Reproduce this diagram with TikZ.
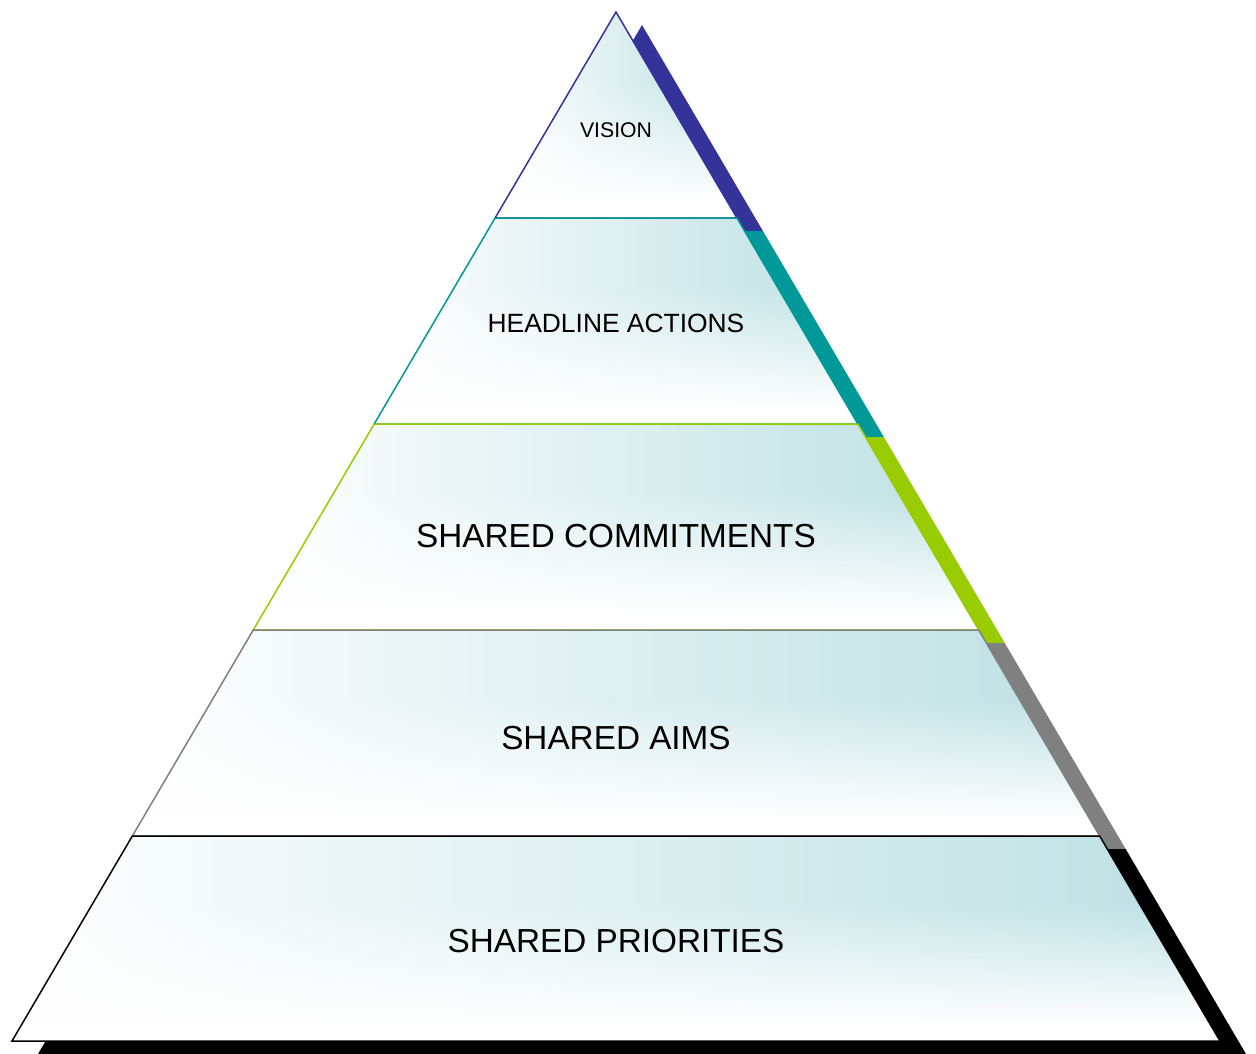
\documentclass[tikz,border=0pt]{standalone}
\usepackage{fontspec}
\setmainfont{Liberation Sans}
\usetikzlibrary{fadings}
\definecolor{tealbg}{RGB}{189,224,227}
\definecolor{cnavy}{RGB}{51,51,153}
\definecolor{cteal}{RGB}{0,153,153}
\definecolor{cgreen}{RGB}{153,204,0}
\definecolor{cgray}{RGB}{128,128,128}
\pgfdeclareverticalshading{lvlshade}{100bp}{color(0bp)=(white); color(29bp)=(white); color(58bp)=(tealbg); color(100bp)=(tealbg)}
\tikzfading[name=lfade, left color=transparent!0, middle color=transparent!55, right color=transparent!100]
\tikzset{
  lvlfill/.style={shading=lvlshade},
  lvlfade/.style={fill=white, path fading=lfade},
  lvledge/.style={draw=#1, line width=1.5pt, line join=miter},
  shadowfill/.style={fill=#1, shift={(26,13)}},
  lbl/.style={text=black, inner sep=0pt, anchor=center},
}
\begin{document}
\begin{tikzpicture}[x=1pt,y=-1pt]
\useasboundingbox (0,0) rectangle (1256,1053);
\clip (0,0) rectangle (1256,1053);
% shadows
\fill[shadowfill=cnavy] (616,12) -- (736.92,218) -- (495.08,218) -- cycle;
\fill[shadowfill=cteal] (495.08,218) -- (736.92,218) -- (857.84,424) -- (374.16,424) -- cycle;
\fill[shadowfill=cgreen] (374.16,424) -- (857.84,424) -- (978.75,630) -- (253.25,630) -- cycle;
\fill[shadowfill=cgray] (253.25,630) -- (978.75,630) -- (1099.67,836) -- (132.33,836) -- cycle;
\fill[shadowfill=black] (132.33,836) -- (1099.67,836) -- (1220,1041) -- (12,1041) -- cycle;
% level 1
\shade[lvlfill] (616,12) -- (736.92,218) -- (495.08,218) -- cycle;
\path[lvlfade] (616,12) -- (736.92,218) -- (495.08,218) -- cycle;
\draw[lvledge=cnavy] (616,12) -- (736.92,218) -- (495.08,218) -- cycle;
% level 2
\shade[lvlfill] (495.08,218) -- (736.92,218) -- (857.84,424) -- (374.16,424) -- cycle;
\path[lvlfade] (495.08,218) -- (736.92,218) -- (857.84,424) -- (374.16,424) -- cycle;
\draw[lvledge=cteal] (495.08,218) -- (736.92,218) -- (857.84,424) -- (374.16,424) -- cycle;
% level 3
\shade[lvlfill] (374.16,424) -- (857.84,424) -- (978.75,630) -- (253.25,630) -- cycle;
\path[lvlfade] (374.16,424) -- (857.84,424) -- (978.75,630) -- (253.25,630) -- cycle;
\draw[lvledge=cgreen] (374.16,424) -- (857.84,424) -- (978.75,630) -- (253.25,630) -- cycle;
% level 4
\shade[lvlfill] (253.25,630) -- (978.75,630) -- (1099.67,836) -- (132.33,836) -- cycle;
\path[lvlfade] (253.25,630) -- (978.75,630) -- (1099.67,836) -- (132.33,836) -- cycle;
\draw[lvledge=cgray] (253.25,630) -- (978.75,630) -- (1099.67,836) -- (132.33,836) -- cycle;
% level 5
\shade[lvlfill] (132.33,836) -- (1099.67,836) -- (1220,1041) -- (12,1041) -- cycle;
\path[lvlfade] (132.33,836) -- (1099.67,836) -- (1220,1041) -- (12,1041) -- cycle;
\draw[lvledge=black] (132.33,836) -- (1099.67,836) -- (1220,1041) -- (12,1041) -- cycle;
% labels
\node[lbl, font=\fontsize{21.2}{25}\selectfont] (vision) at (616,130) {VISION};
\node[lbl, font=\fontsize{26.4}{31}\selectfont] (headline) at (616,323) {HEADLINE ACTIONS};
\node[lbl, font=\fontsize{33.3}{40}\selectfont] (commit) at (616,536) {SHARED COMMITMENTS};
\node[lbl, font=\fontsize{33.3}{40}\selectfont] (aims) at (616,738) {SHARED AIMS};
\node[lbl, font=\fontsize{33.3}{40}\selectfont] (prio) at (616,941) {SHARED PRIORITIES};
\end{tikzpicture}
\end{document}
